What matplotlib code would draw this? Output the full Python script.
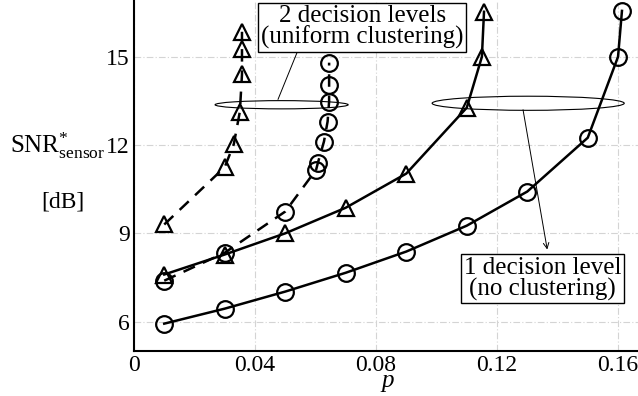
import matplotlib
matplotlib.use('Agg')
import matplotlib.pyplot as plt
from matplotlib.patches import Ellipse

plt.rcParams['font.family'] = ['Liberation Serif', 'DejaVu Serif']
plt.rcParams['mathtext.fontset'] = 'custom'
plt.rcParams['mathtext.rm'] = 'Liberation Serif'
plt.rcParams['mathtext.it'] = 'Liberation Serif:italic'

# 1 decision level (no clustering)
one_circ_p = [0.01, 0.03, 0.05, 0.07, 0.09, 0.11, 0.13, 0.15, 0.16, 0.1613]
one_circ_snr = [5.93, 6.44, 7.02, 7.66, 8.38, 9.26, 10.42, 12.25, 15.0, 16.56]
one_tri_p = [0.01, 0.03, 0.05, 0.07, 0.09, 0.11, 0.115, 0.1157]
one_tri_snr = [7.6, 8.28, 9.0, 9.87, 11.03, 13.27, 15.0, 16.53]

# 2 decision levels (uniform clustering)
two_tri_p = [0.01, 0.03, 0.033, 0.035, 0.0357, 0.0357, 0.0357]
two_tri_snr = [9.3, 11.25, 12.03, 13.14, 14.4, 15.27, 15.85]
two_circ_p = [0.01, 0.03, 0.05, 0.0602, 0.0608, 0.0628, 0.064, 0.0645, 0.0645, 0.0645]
two_circ_snr = [7.39, 8.34, 9.74, 11.16, 11.4, 12.12, 12.8, 13.48, 14.05, 14.8]

xticks = [0, 0.04, 0.08, 0.12, 0.16]
xticklabels = ['0', '0.04', '0.08', '0.12', '0.16']
yticks = [6, 9, 12, 15]

fig = plt.figure(figsize=(6.38, 3.96), dpi=100)
ax = fig.add_axes([0.21, 0.1136, 0.79, 0.8864])

mk = dict(color='k', lw=1.8, mfc='none', mec='k', mew=1.6)
ax.plot(one_circ_p, one_circ_snr, marker='o', ms=12, **mk)
ax.plot(one_tri_p, one_tri_snr, marker='^', ms=11, **mk)
ax.plot(two_tri_p, two_tri_snr, marker='^', ms=11, ls=(0, (5, 3.5)), **mk)
ax.plot(two_circ_p, two_circ_snr, marker='o', ms=12, ls=(0, (5, 3.5)), **mk)

ax.set_xlim(0, 0.1666)
ax.set_ylim(5, 16.93)
ax.set_xticks(xticks)
ax.set_xticklabels(xticklabels)
ax.set_yticks(yticks)
ax.tick_params(length=0, labelsize=17, pad=3)
ax.grid(True, color='#d4d4d4', lw=0.8, ls=(0, (6, 2, 1, 2)))
ax.set_axisbelow(True)
for s in ['top', 'right']:
    ax.spines[s].set_visible(False)
for s in ['left', 'bottom']:
    ax.spines[s].set_linewidth(1.5)

# axis labels
fig.text(388 / 638, 1 - 383 / 396, r'$p$', fontsize=18, ha='center', va='center')
fig.text(58 / 638, 1 - 146 / 396, r'$\mathrm{SNR}^{*}_{\mathrm{sensor}}$',
         fontsize=18, ha='center', va='center')
fig.text(63 / 638, 1 - 202 / 396, '[dB]', fontsize=17, ha='center', va='center')

# annotations
ax.add_patch(Ellipse((0.0488, 13.37), 0.044, 0.28, fill=False, lw=0.8, ec='k'))
ax.add_patch(Ellipse((0.1303, 13.42), 0.0635, 0.48, fill=False, lw=0.8, ec='k'))

ax.annotate('', xy=(0.0555, 15.55), xytext=(0.0476, 13.55),
            arrowprops=dict(arrowstyle='->', lw=0.7, color='k', shrinkA=0, shrinkB=0))
ax.annotate('', xy=(0.1366, 8.45), xytext=(0.1286, 13.2),
            arrowprops=dict(arrowstyle='->', lw=0.7, color='k', shrinkA=0, shrinkB=0))

bbox = dict(boxstyle='square,pad=0.1', fc='white', ec='k', lw=1.0)
ax.text(0.0754, 16.01, '2 decision levels\n(uniform clustering)', fontsize=18,
        ha='center', va='center', linespacing=0.95, bbox=bbox)
ax.text(0.1350, 7.46, '1 decision level\n(no clustering)', fontsize=18,
        ha='center', va='center', linespacing=0.95, bbox=bbox)

fig.savefig('out.png', dpi=100)
